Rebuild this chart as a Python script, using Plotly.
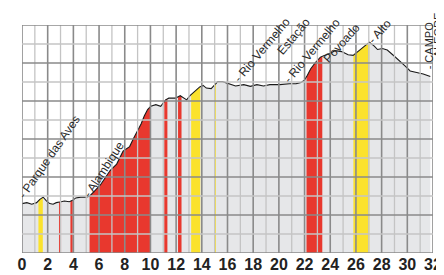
import numpy as np
import plotly.graph_objects as go

# Elevation profile (km, relative elevation units)
km = [0, 0.38, 0.76, 1.14, 1.39, 1.65, 1.90, 2.16, 2.42, 2.67, 3.05, 3.30, 3.68, 3.94,
      4.19, 4.57, 4.95, 5.26, 5.70, 6.10, 6.86, 7.37, 7.87, 8.38, 8.70, 9.01, 9.27, 9.52,
      9.78, 10.03, 10.42, 10.80, 11.18, 11.43, 11.94, 12.32, 12.57, 12.82, 13.08, 13.46,
      13.84, 14.10, 14.35, 14.73, 14.99, 15.24, 15.62, 16.0, 16.63, 17.27, 17.78, 18.29,
      18.80, 19.30, 20.06, 20.82, 21.33, 21.71, 21.97, 22.22, 22.48, 22.86, 23.24, 23.49,
      24.0, 24.38, 24.89, 25.39, 25.78, 26.29, 26.80, 27.05, 27.43, 27.68, 28.06, 28.44,
      28.95, 29.46, 29.84, 30.22, 30.73, 31.24, 31.79]
elev = [260, 265, 257, 265, 282, 294, 274, 260, 257, 265, 270, 274, 270, 277,
        290, 294, 294, 299, 330, 358, 434, 468, 536, 560, 605, 645, 679, 721,
        755, 772, 781, 772, 806, 815, 815, 828, 818, 806, 828, 852,
        874, 882, 868, 865, 886, 902, 902, 892, 879, 886, 877, 886,
        879, 886, 886, 891, 891, 897, 908, 936, 970, 1004, 1031, 1038,
        1051, 1065, 1060, 1043, 1040, 1068, 1094, 1110, 1089, 1071, 1076, 1068,
        1038, 1009, 984, 958, 950, 942, 929]

# Highlighted stretches (start km, end km, kind)
seg_start = [1.28, 2.88, 3.77, 5.26, 11.08, 12.15, 13.17, 14.95, 22.15, 25.80]
seg_end   = [1.62, 3.04, 3.95, 10.02, 11.32, 12.42, 13.88, 15.10, 23.38, 27.05]
seg_kind  = ["y", "r", "r", "r", "r", "r", "y", "y", "r", "y"]

# Place labels: text, km position, elevation-level position, angle
lab_text = ["- Parque das Aves", "- Alambique", "- Rio Vermelho", "Estação",
            "- Rio Vermelho", "Povoado", "- Alto", "- CAMPO", "ALEGRE"]
lab_km   = [2.10, 6.40, 18.67, 21.18, 22.55, 24.90, 27.90, 31.72, 32.40]
lab_el   = [507, 441, 1070, 1141, 1065, 1105, 1166, 1095, 1146]
lab_ang  = [-55, -57, -50, -50, -50, -48, -48, -90, -90]
lab_size = [12, 12, 12, 12, 12, 12, 12, 11, 11]

x_ticks = list(range(0, 33, 2))
X_MAX = 32
Y_MAX = 1200

RED = "#e8382e"
YEL = "#fbe22c"
FILL = "#e6e7e9"

fig = go.Figure()
fig.add_trace(go.Scatter(x=km, y=elev, mode="lines", fill="tozeroy",
                         fillcolor=FILL, line=dict(color="rgba(0,0,0,0)", width=0),
                         hoverinfo="skip", showlegend=False))

kmA = np.array(km)
elA = np.array(elev, dtype=float)
for a, b, k in zip(seg_start, seg_end, seg_kind):
    inside = (kmA > a) & (kmA < b)
    xs = np.concatenate([[a], kmA[inside], [b]])
    ys = np.interp(xs, kmA, elA)
    fig.add_trace(go.Scatter(x=xs, y=ys, mode="lines", fill="tozeroy",
                             fillcolor=RED if k == "r" else YEL,
                             line=dict(width=0, color="rgba(0,0,0,0)"),
                             hoverinfo="skip", showlegend=False))

fig.add_trace(go.Scatter(x=km, y=elev, mode="lines",
                         line=dict(color="#1a1a1a", width=1.1),
                         hoverinfo="skip", showlegend=False))

shapes = []
for v in range(0, X_MAX + 1):
    major = v % 2 == 0
    shapes.append(dict(type="line", xref="x", yref="y", x0=v, x1=v, y0=0, y1=Y_MAX,
                       layer="above",
                       line=dict(color="#8a8a8a" if major else "#c4c4c4",
                                 width=1.6 if major else 1.3)))
for h in range(0, Y_MAX + 1, 100):
    major = h % 200 == 0
    shapes.append(dict(type="line", xref="x", yref="y", x0=0, x1=X_MAX, y0=h, y1=h,
                       layer="above",
                       line=dict(color="#8a8a8a" if major else "#c4c4c4",
                                 width=1.6 if major else 1.3)))

annotations = []
for t, xk, ye, ang, sz in zip(lab_text, lab_km, lab_el, lab_ang, lab_size):
    annotations.append(dict(text=t, x=xk / X_MAX, y=ye / Y_MAX, xref="paper", yref="paper",
                            showarrow=False, textangle=ang, borderpad=0,
                            xanchor="center", yanchor="middle",
                            font=dict(family="Liberation Sans, Arial", size=sz,
                                      color="#2a2a2a")))

fig.update_layout(
    width=444, height=275,
    margin=dict(l=10, r=14, t=17, b=21),
    paper_bgcolor="white", plot_bgcolor="white",
    shapes=shapes, annotations=annotations,
    xaxis=dict(range=[0, X_MAX], showgrid=False, zeroline=False, showline=False,
               tickvals=x_ticks, ticktext=[str(v) for v in x_ticks], ticks="",
               tickfont=dict(family="Liberation Sans, Arial", size=16,
                             color="#222222", weight="bold")),
    yaxis=dict(range=[0, Y_MAX], showgrid=False, zeroline=False, showline=False,
               showticklabels=False, ticks=""),
)

fig.write_html("out.html")
